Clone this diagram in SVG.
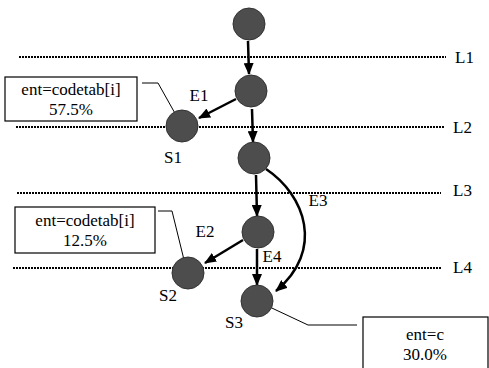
<svg xmlns="http://www.w3.org/2000/svg" width="489" height="368" viewBox="0 0 489 368" font-family="'Liberation Serif', 'DejaVu Serif', 'Times New Roman', serif">
<style>
text{font-family:'Liberation Serif','DejaVu Serif','Times New Roman',serif;font-size:17px;fill:#000}
.lvl{stroke:#000;stroke-width:2.2;stroke-dasharray:2 1;fill:none}
.node{fill:#4d4d4d;stroke:#333;stroke-width:1}
.arr{stroke:#000;stroke-width:2.5;fill:none;marker-end:url(#ah)}
.lead{stroke:#000;stroke-width:1;fill:none}
.box{fill:#fff;stroke:#000;stroke-width:1.2}
</style>
<defs>
<marker id="ah" markerUnits="userSpaceOnUse" markerWidth="12" markerHeight="10" refX="11" refY="5" orient="auto">
<path d="M0,0 L12,5 L0,10 z" fill="#000"/>
</marker>
</defs>
<rect width="489" height="368" fill="#fff"/>
<g id="levels">
<line class="lvl" x1="19" y1="57" x2="446" y2="57"/>
<line class="lvl" x1="16" y1="127" x2="445" y2="127"/>
<line class="lvl" x1="17" y1="193" x2="441" y2="193"/>
<line class="lvl" x1="13" y1="268" x2="441" y2="268"/>
<text x="455" y="63">L1</text>
<text x="453" y="133">L2</text>
<text x="453" y="196">L3</text>
<text x="453" y="273">L4</text>
</g>
<g id="connectors">
<line class="arr" x1="248" y1="41" x2="249" y2="74"/>
<line class="arr" x1="236" y1="99" x2="199" y2="118"/>
<line class="arr" x1="252" y1="109" x2="253" y2="142"/>
<line class="arr" x1="256" y1="175" x2="257" y2="216"/>
<line class="arr" x1="243" y1="240" x2="205" y2="263"/>
<line class="arr" x1="257" y1="249" x2="257" y2="285"/>
<path class="arr" d="M266,169 C305,195 325,250 276,291"/>
<polyline class="lead" points="142,83 158,83 181,124"/>
<polyline class="lead" points="158,211 172,211 186,268"/>
<polyline class="lead" points="259,302 308,325 357,325"/>
</g>
<g id="n0"><circle class="node" cx="249" cy="24" r="16"/></g>
<g id="n1"><circle class="node" cx="251" cy="91" r="16"/></g>
<g id="s1"><circle class="node" cx="182" cy="126" r="16"/><text x="173" y="163" text-anchor="middle">S1</text></g>
<g id="n2"><circle class="node" cx="254" cy="158" r="16"/></g>
<g id="n3"><circle class="node" cx="258" cy="232" r="16"/></g>
<g id="s2"><circle class="node" cx="188" cy="273" r="16"/><text x="168" y="301" text-anchor="middle">S2</text></g>
<g id="s3"><circle class="node" cx="257" cy="301" r="16"/><text x="234" y="328" text-anchor="middle">S3</text></g>
<g id="edge-labels">
<text x="199" y="101" text-anchor="middle">E1</text>
<text x="205" y="237" text-anchor="middle">E2</text>
<text x="318" y="206" text-anchor="middle">E3</text>
<text x="272" y="262" text-anchor="middle">E4</text>
</g>
<g id="box1"><rect class="box" x="5" y="77" width="132" height="44"/>
<text x="71" y="95" text-anchor="middle">ent=codetab[i]</text>
<text x="71" y="115" text-anchor="middle">57.5%</text></g>
<g id="box2"><rect class="box" x="15" y="207" width="140" height="46"/>
<text x="85" y="226" text-anchor="middle">ent=codetab[i]</text>
<text x="85" y="246" text-anchor="middle">12.5%</text></g>
<g id="box3"><rect class="box" x="363" y="317" width="125" height="60"/>
<text x="425" y="340" text-anchor="middle">ent=c</text>
<text x="425" y="360" text-anchor="middle">30.0%</text></g>
</svg>
